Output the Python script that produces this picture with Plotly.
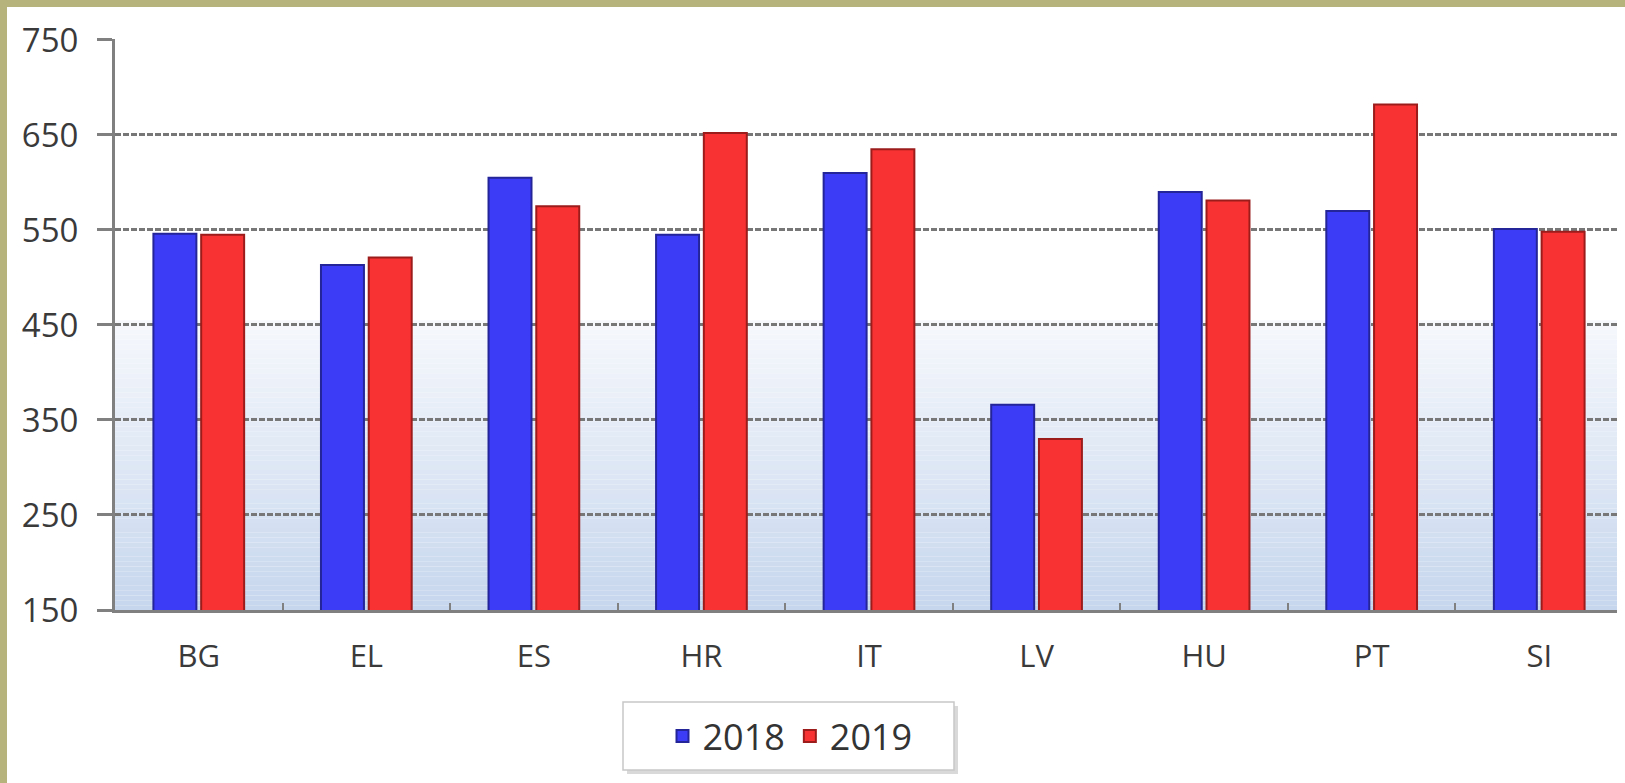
import plotly.graph_objects as go

# values
countries = ["BG", "EL", "ES", "HR", "IT", "LV", "HU", "PT", "SI"]
y2018 = [546, 513, 605, 545, 610, 366, 590, 570, 551]
y2019 = [545, 521, 575, 652, 635, 330, 581, 682, 548]
yticks = [150, 250, 350, 450, 550, 650, 750]

# the page puts the figure 8px in from the top-left corner
OFF = 8
W, H = 1625, 783
L, R, T, B = 115 - OFF, W - (1623 - OFF), 39 - OFF, H - (610 - OFF)
pw, ph = W - L - R, H - T - B

def px(x):  # screen x -> paper x
    return (x - OFF - L) / pw

def py(y):  # screen y -> paper y
    return (H - B - (y - OFF)) / ph

khaki = "#b7b37c"

fig = go.Figure()
fig.add_trace(go.Bar(x=countries, y=y2018, name="2018",
                     marker=dict(color="#3c3cf6", line=dict(color="#25259a", width=2))))
fig.add_trace(go.Bar(x=countries, y=y2019, name="2019",
                     marker=dict(color="#f83232", line=dict(color="#9c1c1c", width=2))))

shapes = []
# light blue gradient in lower part of plot area
n = 60
top, bot = 455, 150
c0, c1 = (246, 248, 252), (198, 214, 237)
for i in range(n):
    f = (i + 0.5) / n
    col = tuple(round(c0[k] + (c1[k] - c0[k]) * f) for k in range(3))
    shapes.append(dict(type="rect", xref="paper", yref="y", x0=0, x1=1,
                       y0=top - (top - bot) * i / n, y1=top - (top - bot) * (i + 1) / n,
                       fillcolor="rgb(%d,%d,%d)" % col, line_width=0, layer="below"))

# legend box with a soft shadow
shapes.append(dict(type="rect", xref="paper", yref="paper", x0=px(627), x1=px(958),
                   y0=py(774), y1=py(706), fillcolor="#d9d9d9", line_width=0, layer="above"))
shapes.append(dict(type="rect", xref="paper", yref="paper", x0=px(623), x1=px(954),
                   y0=py(770), y1=py(702), fillcolor="white",
                   line=dict(color="#c8c8c8", width=1.5), layer="above"))

fig.update_layout(
    width=W, height=H, autosize=False,
    margin=dict(l=L, r=R, t=T, b=B),
    paper_bgcolor="white", plot_bgcolor="white",
    font=dict(family="Open Sans", color="#3a3a3a"),
    barmode="group", bargap=0.43, bargroupgap=0.1,
    shapes=shapes,
    showlegend=True,
    legend=dict(orientation="h", x=px(790), xanchor="center", y=py(736), yanchor="middle",
                bgcolor="rgba(0,0,0,0)", borderwidth=0,
                font=dict(size=36, color="#333333"), itemwidth=30),
)
fig.update_yaxes(range=[150, 751], tickvals=yticks, showgrid=True, automargin=False,
                 gridcolor="#777777", gridwidth=2.5, griddash="6px,2px",
                 zeroline=False, showline=True, linecolor="#808080", linewidth=3,
                 ticks="outside", ticklen=15, tickwidth=2.5, tickcolor="#808080",
                 tickfont=dict(size=33), ticklabelstandoff=12)
fig.update_xaxes(showgrid=False, showline=True, automargin=False,
                 linecolor="#808080", linewidth=3,
                 ticks="inside", tickson="boundaries", ticklen=7, tickwidth=2,
                 tickcolor="#808080", tickfont=dict(size=31), ticklabelstandoff=17)

# khaki strip only along the top and left edge of the page
page_bg = ("linear-gradient(to right, %s 7px, rgba(0,0,0,0) 7px), "
           "linear-gradient(to bottom, %s 7px, white 7px)") % (khaki, khaki)
fig.write_html("out.html", post_script='document.body.style.background="%s";' % page_bg)
